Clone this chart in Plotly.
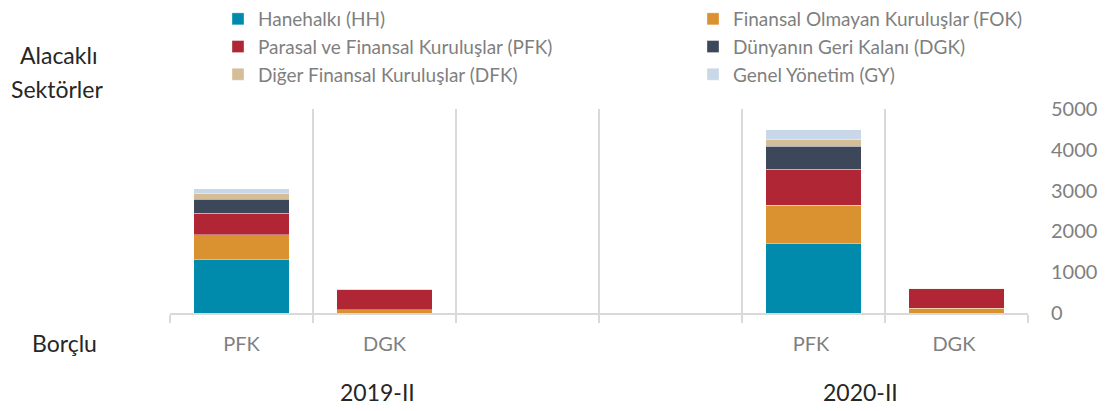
import plotly.graph_objects as go

# category slots on the x axis (blank ones keep the empty gap between years)
categories = ["PFK", "DGK", " ", "  ", "PFK ", "DGK "]
bar_slots = ["PFK", "DGK", "PFK ", "DGK "]

series_names = [
    "Hanehalkı (HH)",
    "Finansal Olmayan Kuruluşlar (FOK)",
    "Parasal ve Finansal Kuruluşlar (PFK)",
    "Dünyanın Geri Kalanı (DGK)",
    "Diğer Finansal Kuruluşlar (DFK)",
    "Genel Yönetim (GY)",
]
series_colors = ["#008BAD", "#DA9130", "#B02635", "#3C475A", "#D5BD98", "#C8D8E8"]
# left legend column holds HH, PFK, DFK; right column FOK, DGK, GY
series_legends = ["legend", "legend2", "legend", "legend2", "legend", "legend2"]

# values: 2019-II PFK, 2019-II DGK, 2020-II PFK, 2020-II DGK
hh = [1320, 0, 1715, 0]
fok = [595, 85, 930, 120]
pfk = [525, 500, 875, 475]
dgk = [345, 0, 570, 0]
dfk = [155, 10, 170, 10]
gy = [100, 0, 235, 0]
series_values = [hh, fok, pfk, dgk, dfk, gy]

FONT = "Lato"
GRAY = "#7F7F7F"
GRID = "#D9D9D9"

# the page body adds an 8px margin, so the figure is 8px smaller and
# positions below are given in window pixels and shifted back by 8
OFF = 8
W, H = 1110 - OFF, 411 - OFF
ML, MR, MT, MB = 170 - OFF, 82, 109 - OFF, 98
PW, PH = W - ML - MR, H - MT - MB


def px_x(x):
    return (x - OFF - ML) / PW


def px_y(y):
    return (H - MB - (y - OFF)) / PH


fig = go.Figure()
for name, color, values, leg in zip(series_names, series_colors, series_values, series_legends):
    fig.add_trace(go.Bar(
        name=name,
        x=bar_slots,
        y=values,
        legend=leg,
        marker={"color": color, "line": {"color": "rgba(255,255,255,0.6)", "width": 0.6}},
    ))

legend_style = {
    "orientation": "v",
    "yanchor": "top",
    "xanchor": "left",
    "traceorder": "normal",
    "font": {"size": 19, "color": GRAY, "family": FONT},
    "bgcolor": "rgba(0,0,0,0)",
}

fig.update_layout(
    width=W,
    height=H,
    barmode="stack",
    bargap=0.33,
    plot_bgcolor="white",
    paper_bgcolor="white",
    margin={"l": ML, "r": MR, "t": MT, "b": MB, "autoexpand": False},
    font={"family": FONT, "color": GRAY},
    legend={**legend_style, "x": px_x(218), "y": px_y(0)},
    legend2={**legend_style, "x": px_x(693), "y": px_y(0)},
    xaxis={
        "type": "category",
        "categoryorder": "array",
        "categoryarray": categories,
        "range": [-0.5, 5.5],
        "tickson": "boundaries",
        "ticks": "outside",
        "ticklen": 8,
        "tickwidth": 2,
        "tickcolor": GRID,
        "showgrid": True,
        "gridcolor": GRID,
        "gridwidth": 2,
        "showline": True,
        "linecolor": GRID,
        "linewidth": 2,
        "tickfont": {"size": 20, "color": GRAY},
        "ticklabelstandoff": 12,
    },
    yaxis={
        "side": "right",
        "range": [0, 5000],
        "dtick": 1000,
        "showgrid": False,
        "zeroline": False,
        "ticks": "",
        "tickfont": {"size": 20, "color": GRAY},
        "ticklabelstandoff": 22,
    },
)

annotations = [
    ("Alacaklı", 58, 55),
    ("Sektörler", 57, 89),
    ("Borçlu", 64, 343),
    ("2019-II", 377, 392),
    ("2020-II", 860, 392),
]
for text, x, y in annotations:
    fig.add_annotation(
        text=text,
        xref="paper",
        yref="paper",
        x=px_x(x),
        y=px_y(y),
        xanchor="center",
        yanchor="middle",
        showarrow=False,
        font={"size": 23, "color": "#262626", "family": FONT},
    )

fig.write_html("out.html")
